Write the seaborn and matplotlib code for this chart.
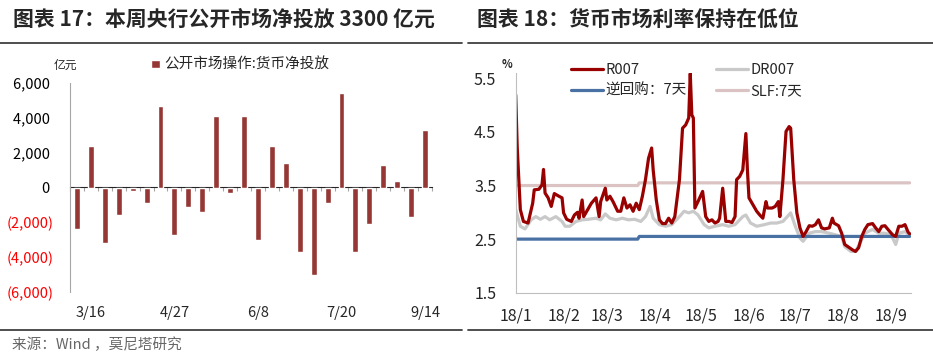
import numpy as np
import pandas as pd
import matplotlib
matplotlib.use("Agg")
import matplotlib.pyplot as plt
from matplotlib.lines import Line2D
import seaborn as sns

# ---- left chart: weekly net injection (亿元)
week_labels = ["3/9", "3/16", "3/23", "3/30", "4/6", "4/13", "4/20", "4/27", "5/4",
               "5/11", "5/18", "5/25", "6/1", "6/8", "6/15", "6/22", "6/29", "7/6",
               "7/13", "7/20", "7/27", "8/3", "8/10", "8/24", "9/7", "9/14"]
net_injection = [-2400, 2400, -3200, -1600, -200, -900, 4700, -2700, -1100, -1400,
                 4100, -300, 4100, -3000, 2400, 1400, -3700, -5000, -900, 5400,
                 -3700, -2100, 1300, 400, -1700, 3300]
shown_weeks = ["3/16", "4/27", "6/8", "7/20", "9/14"]

# ---- right chart: money market rates (%), x = days since 2018-01-01
r007_day = [0, 1, 3, 5, 8, 11, 12, 15, 17, 18, 19, 21, 23, 25, 28, 30, 31, 33, 36, 38,
            40, 41, 43, 44, 46, 49, 52, 54, 55, 58, 59, 61, 63, 66, 68, 70, 72, 74, 76,
            78, 80, 82, 84, 86, 88, 89, 91, 93, 95, 97, 99, 101, 103, 106, 108, 110,
            112, 113, 114, 115, 116, 118, 121, 123, 125, 127, 129, 131, 132, 134, 136,
            138, 140, 142, 143, 145, 147, 149, 150, 151, 153, 156, 158, 160, 162, 163,
            166, 168, 170, 171, 173, 175, 177, 178, 180, 182, 184, 186, 188, 190, 192,
            194, 196, 198, 200, 203, 205, 206, 209, 211, 213, 216, 218, 220, 222, 224,
            226, 228, 231, 233, 235, 237, 239, 241, 244, 246, 248, 250, 252, 254, 255]
r007_val = [5.19, 4.20, 3.05, 2.83, 2.80, 3.17, 3.42, 3.43, 3.51, 3.80, 3.36, 3.27, 3.11,
            3.35, 3.30, 3.27, 2.99, 2.87, 2.83, 2.95, 3.00, 2.89, 3.23, 2.92, 3.02, 3.17,
            3.27, 2.92, 3.20, 3.45, 3.23, 3.30, 3.20, 3.02, 3.02, 3.27, 3.08, 3.14, 3.02,
            3.17, 3.05, 3.30, 3.61, 4.01, 4.20, 3.79, 3.23, 2.86, 2.79, 2.79, 2.89, 2.80,
            2.92, 3.61, 4.57, 4.63, 4.76, 5.59, 4.82, 4.76, 3.08, 3.20, 3.39, 2.92, 2.83,
            2.86, 2.80, 2.83, 2.89, 3.45, 2.83, 2.83, 2.81, 2.92, 3.61, 3.67, 3.79, 4.47,
            3.79, 3.27, 3.17, 3.02, 2.95, 2.89, 3.20, 3.08, 3.08, 3.11, 3.20, 2.92, 3.61,
            4.51, 4.60, 4.57, 3.61, 2.99, 2.71, 2.55, 2.64, 2.75, 2.74, 2.77, 2.86, 2.71,
            2.69, 2.71, 2.89, 2.80, 2.75, 2.61, 2.40, 2.34, 2.30, 2.27, 2.34, 2.55, 2.68,
            2.77, 2.79, 2.71, 2.64, 2.74, 2.75, 2.68, 2.58, 2.55, 2.74, 2.74, 2.77, 2.63,
            2.60]
dr007_day = [0, 3, 6, 10, 13, 16, 19, 22, 26, 30, 32, 35, 39, 43, 47, 52, 55, 58, 61, 65,
             69, 73, 77, 81, 84, 87, 89, 93, 97, 101, 106, 109, 112, 115, 118, 122, 125,
             129, 134, 138, 142, 147, 149, 152, 156, 161, 165, 169, 173, 178, 181, 184,
             186, 190, 194, 198, 203, 207, 211, 213, 217, 220, 223, 226, 231, 235, 239,
             243, 246, 248, 252, 255]
dr007_val = [3.05, 2.74, 2.69, 2.86, 2.92, 2.87, 2.92, 2.86, 2.92, 2.83, 2.74, 2.74, 2.83,
             2.86, 2.87, 2.89, 2.86, 2.97, 2.89, 2.86, 2.89, 2.86, 2.87, 2.83, 2.92, 3.11,
             2.89, 2.77, 2.74, 2.77, 2.92, 3.02, 2.99, 3.02, 2.95, 2.77, 2.71, 2.74, 2.77,
             2.74, 2.77, 2.92, 2.95, 2.80, 2.74, 2.77, 2.80, 2.80, 2.83, 2.99, 2.74, 2.52,
             2.46, 2.61, 2.64, 2.64, 2.61, 2.58, 2.55, 2.36, 2.27, 2.27, 2.43, 2.61, 2.68,
             2.61, 2.61, 2.58, 2.40, 2.61, 2.64, 2.58]
policy_day = [0, 79, 80, 255]
reverse_repo_7d = [2.50, 2.50, 2.55, 2.55]
slf_7d = [3.50, 3.50, 3.55, 3.55]

BAR_RED = "#953735"
W, H = 933, 359


def fx(x):
    return x / W


def fy(y):
    return 1 - y / H


def to_dates(days):
    return pd.Timestamp("2018-01-01") + pd.to_timedelta(days, unit="D")


sns.set_style("white")
plt.rcParams["font.family"] = ["Noto Sans CJK SC", "DejaVu Sans"]
plt.rcParams["axes.unicode_minus"] = False

fig = plt.figure(figsize=(W / 100, H / 100), dpi=100)

# titles, rules and source
fig.text(fx(13), fy(19), "图表 17：本周央行公开市场净投放 3300 亿元", fontsize=15,
         fontweight="bold", va="center", ha="left")
fig.text(fx(477), fy(19), "图表 18：货币市场利率保持在低位", fontsize=15,
         fontweight="bold", va="center", ha="left")
for x0, x1 in [(0, 462), (468, 933)]:
    for yy in (43, 330):
        fig.add_artist(Line2D([fx(x0), fx(x1)], [fy(yy), fy(yy)], color="#404040", lw=1.3))
fig.text(fx(12), fy(345), "来源：Wind ，莫尼塔研究", fontsize=10.5, color="#666666",
         va="center", ha="left")

# ---------------- left chart
ax1 = fig.add_axes([fx(70), fy(292), fx(432) - fx(70), fy(83) - fy(292)])
bars = pd.DataFrame({"week": week_labels, "value": net_injection})
sns.barplot(data=bars, x="week", y="value", color=BAR_RED, saturation=1, width=0.42,
            ax=ax1, label="公开市场操作:货币净投放")
ax1.set_xlim(-0.5, len(week_labels) - 0.5)
ax1.set_ylim(-6000, 6000)
yt = list(range(-6000, 6001, 2000))
ylabs = [f"{v:,} " if v >= 0 else f"({-v:,})" for v in yt]
ax1.set_yticks(yt, labels=ylabs)
for lab, v in zip(ax1.get_yticklabels(), yt):
    lab.set_color("#ff0000" if v < 0 else "#000000")
pos = [week_labels.index(w) for w in shown_weeks]
ax1.set_xticks(pos, labels=shown_weeks)
ax1.set_xlabel("")
ax1.set_ylabel("")
for s in ["top", "right", "bottom"]:
    ax1.spines[s].set_visible(False)
ax1.spines["left"].set_color("#a6a6a6")
ax1.tick_params(axis="x", length=0, pad=10, labelsize=10.5)
ax1.tick_params(axis="y", direction="in", length=3, color="#a6a6a6", pad=12, labelsize=10.5)
zero_axis = ax1.secondary_xaxis(0.5)
zero_axis.set_xticks(np.arange(len(week_labels) + 1) - 0.5, labels=[])
zero_axis.tick_params(direction="in", length=3, color="#a6a6a6")
zero_axis.spines["bottom"].set_color("#a6a6a6")
ax1.legend(loc="center left", bbox_to_anchor=(fx(144), fy(65)),
           bbox_transform=fig.transFigure, frameon=False, fontsize=10.5,
           handlelength=0.6, handleheight=0.45, handletextpad=0.3, borderpad=0)
fig.text(fx(65), fy(65), "亿元", fontsize=8.5, va="center", ha="center")

# ---------------- right chart
ax2 = fig.add_axes([fx(515.7), fy(292.7), fx(910.7) - fx(515.7), fy(73) - fy(292.7)])
sns.lineplot(x=to_dates(policy_day), y=slf_7d, color="#dbc3c3", lw=2.3,
             ax=ax2, label="SLF:7天")
sns.lineplot(x=to_dates(dr007_day), y=dr007_val, color="#c9c9c9", lw=2.3, ax=ax2,
             label="DR007")
sns.lineplot(x=to_dates(policy_day), y=reverse_repo_7d, color="#4a71a4", lw=2.3, ax=ax2,
             label="逆回购：7天")
sns.lineplot(x=to_dates(r007_day), y=r007_val, color="#990000", lw=2.3, ax=ax2,
             label="R007")
ax2.set_xlabel("")
ax2.set_ylabel("")
ax2.set_ylim(1.5, 5.6)
ax2.set_yticks([1.5, 2.5, 3.5, 4.5, 5.5])
ax2.set_xlim(pd.Timestamp("2018-01-01"), pd.Timestamp("2018-01-01") + pd.Timedelta(days=255.7))
months = pd.date_range("2018-01-01", "2018-09-01", freq="MS")
ax2.set_xticks(months, labels=[f"18/{m.month}" for m in months])
for s in ["top", "right"]:
    ax2.spines[s].set_visible(False)
for s in ["left", "bottom"]:
    ax2.spines[s].set_color("#bfbfbf")
ax2.tick_params(axis="x", direction="in", length=4, color="#bfbfbf", pad=11, labelsize=11.5)
ax2.tick_params(axis="y", direction="in", length=3, color="#bfbfbf", pad=14, labelsize=11.5)
h, l = ax2.get_legend_handles_labels()
order = ["R007", "逆回购：7天", "DR007", "SLF:7天"]
hd = dict(zip(l, h))
ax2.legend([hd[k] for k in order], order, ncol=2, loc="upper left",
           bbox_to_anchor=(fx(564), fy(56)), bbox_transform=fig.transFigure,
           frameon=False, fontsize=10.5, handlelength=2.2, handletextpad=0.15,
           columnspacing=2.0, labelspacing=0.45, borderpad=0)
fig.text(fx(507), fy(65), "%", fontsize=8, fontweight="bold", va="center", ha="center")

fig.savefig("out.png", dpi=100)
